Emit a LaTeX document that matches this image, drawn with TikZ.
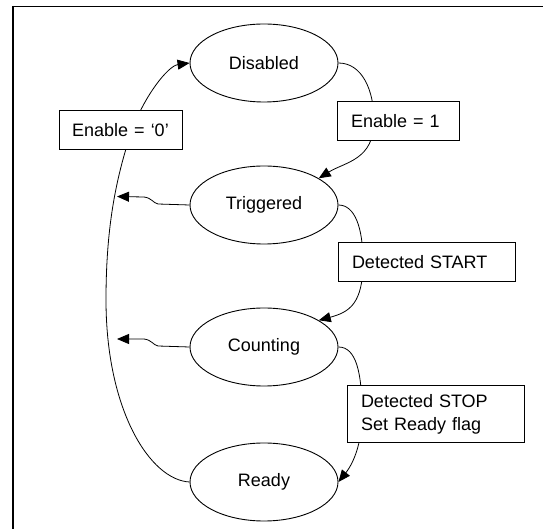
\documentclass[tikz,border=0pt]{standalone}
\usepackage{fontspec}
\setmainfont{Liberation Sans}
\usetikzlibrary{shapes.geometric,arrows.meta,backgrounds}
\begin{document}
\begin{tikzpicture}[x=1pt,y=-1pt,
  state/.style={ellipse, draw, line width=0.9pt, minimum width=148pt, minimum height=78pt, inner sep=0pt, font=\fontsize{18}{22}\selectfont},
  lbl/.style={draw, fill=white, line width=1pt, inner xsep=14pt, inner ysep=0pt, align=left, font=\fontsize{18}{23.5}\selectfont},
  edge/.style={line width=0.8pt, -{Triangle[length=12pt,width=10pt]}},
  frameline/.style={black}]
\useasboundingbox (0,0) rectangle (547,529);
\draw[frameline, line width=1.5pt] (12,6.5) -- (543,6.5);
\draw[frameline, line width=2.2pt] (13,5.8) -- (13,529);

\node[state] (dis) at (264,63) {Disabled};
\node[state] (trig) at (264,205) {Triggered};
\node[state] (count) at (264,347) {Counting};
\node[state] (ready) at (264,482) {Ready};

\node[lbl, inner xsep=4pt, text width=115pt, align=center, minimum height=39pt] (e0) at (120.5,130.5) {Enable = ‘0’};
\node[lbl, text width=94pt, minimum height=39pt] (e1) at (398,121.5) {Enable = 1};
\node[lbl, text width=149pt, minimum height=39pt] (ds) at (426.5,262.5) {Detected START};
\node[lbl, text width=149pt, minimum height=57pt] (dstop) at (435.5,414.5) {Detected STOP\\Set Ready flag};

\coordinate (v1) at (374,121);
\coordinate (v2) at (363,262);
\coordinate (v3) at (362,414);
\coordinate (v4) at (106,300);
\coordinate (v5) at (132,130);
\coordinate (a1) at (117,196.5);
\coordinate (a2) at (117,339);

\begin{scope}[on background layer]
\draw[edge] (dis.east) .. controls (362,63) and (374,90) .. (v1) .. controls (374,160) and (345,162) .. (trig.26);
\draw[edge] (trig.east) .. controls (355,205) and (363,228) .. (v2) .. controls (363,303) and (350,312) .. (count.26);
\draw[edge] (count.east) .. controls (356,347) and (362,372) .. (v3) .. controls (362,452) and (348,470) .. (ready.east);
\draw[edge] (ready.west) .. controls (150,480) and (106,410) .. (v4) .. controls (106,230) and (115,180) .. (v5) .. controls (145,95) and (168,66) .. (dis.west);
\draw[edge] (trig.west) -- (158,204) .. controls (153,203) and (152,198) .. (144,197) -- (a1);
\draw[edge] (count.west) -- (158,346) .. controls (153,345) and (152,340) .. (144,339) -- (a2);
\end{scope}
\end{tikzpicture}
\end{document}
